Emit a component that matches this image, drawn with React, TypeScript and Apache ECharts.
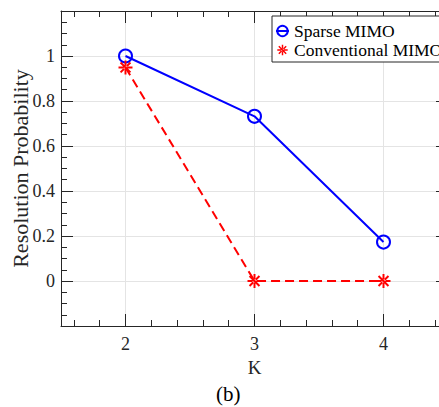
import React, { useEffect, useRef } from "react";
import * as echarts from "echarts";

const K = [2, 3, 4];
const sparseMIMO = [1.0, 0.732, 0.173];
const conventionalMIMO = [0.949, 0, 0];
const xMajorTicks = [2, 3, 4];
const xMinorTicks = [1.6, 1.8, 2.2, 2.4, 2.6, 2.8, 3.2, 3.4, 3.6, 3.8, 4.2, 4.4];
const seriesNames = ["Sparse MIMO", "Conventional MIMO"];

const FONT = "'Liberation Serif', 'Times New Roman', serif";
const AXIS = "#262626";
const GRID = "#e4e4e4";

const STAR =
  "path://M-10,-1.4L10,-1.4L10,1.4L-10,1.4Z M-1.4,-10L1.4,-10L1.4,10L-1.4,10Z " +
  "M-6.08,-8.06L8.06,6.08L6.08,8.06L-8.06,-6.08Z M-6.08,8.06L8.06,-6.08L6.08,-8.06L-8.06,6.08Z";

export default function App() {
  const ref = useRef<HTMLDivElement>(null);
  useEffect(() => {
    if (!ref.current) return;
    const chart = echarts.init(ref.current, null, { renderer: "svg" });
    const xBase = { type: "value" as const, min: 1.5, max: 4.5, gridIndex: 0 };
    const yBase = { type: "value" as const, min: -0.2, max: 1.2, interval: 0.2, gridIndex: 0 };
    const line = { color: AXIS, width: 1 };
    chart.setOption({
      animation: false,
      backgroundColor: "#fff",
      title: {
        text: "(b)",
        left: 216,
        top: 383,
        padding: 0,
        textStyle: { fontFamily: FONT, fontSize: 21, fontWeight: "normal", color: "#000" },
      },
      grid: { left: 61, top: 11, right: 12, bottom: 81, containLabel: false, outerBoundsMode: "none" },
      legend: {
        orient: "vertical",
        left: 272,
        top: 16,
        padding: [6, 8, 3, 3],
        itemGap: 1,
        itemWidth: 13,
        itemHeight: 13,
        backgroundColor: "#fff",
        borderColor: AXIS,
        borderWidth: 1,
        borderRadius: 0,
        textStyle: { fontFamily: FONT, fontSize: 17.5, color: "#000" },
        data: [
          { name: seriesNames[0] },
          { name: seriesNames[1], lineStyle: { opacity: 0 } },
        ],
      },
      xAxis: [
        {
          ...xBase,
          position: "bottom",
          axisLine: { show: true, onZero: false, lineStyle: line },
          axisTick: { show: true, inside: true, length: 12, customValues: xMajorTicks, lineStyle: line },
          axisLabel: {
            show: true,
            customValues: xMajorTicks,
            margin: 9,
            fontFamily: FONT,
            fontSize: 18,
            color: AXIS,
          },
          splitLine: { show: true, lineStyle: { color: GRID, width: 1 } },
          name: "K",
          nameLocation: "middle",
          nameGap: 32,
          nameMoveOverlap: false,
          nameTextStyle: { fontFamily: FONT, fontSize: 19, color: AXIS },
        },
        {
          ...xBase,
          position: "bottom",
          axisLine: { show: false, onZero: false },
          axisTick: { show: true, inside: true, length: 6, customValues: xMinorTicks, lineStyle: line },
          axisLabel: { show: false },
          splitLine: { show: false },
        },
        {
          ...xBase,
          position: "top",
          axisLine: { show: true, onZero: false, lineStyle: line },
          axisTick: { show: true, inside: true, length: 12, customValues: xMajorTicks, lineStyle: line },
          axisLabel: { show: false },
          splitLine: { show: false },
        },
        {
          ...xBase,
          position: "top",
          axisLine: { show: false, onZero: false },
          axisTick: { show: true, inside: true, length: 6, customValues: xMinorTicks, lineStyle: line },
          axisLabel: { show: false },
          splitLine: { show: false },
        },
      ],
      yAxis: [
        {
          ...yBase,
          position: "left",
          axisLine: { show: true, onZero: false, lineStyle: line },
          axisTick: { show: true, inside: true, length: 12, lineStyle: line },
          minorTick: { show: true, splitNumber: 4, length: 6, lineStyle: line },
          axisLabel: {
            show: true,
            margin: 6,
            fontFamily: FONT,
            fontSize: 18,
            color: AXIS,
            formatter: (v: number) => (v < -0.01 || v > 1.01 ? "" : String(+v.toFixed(1))),
          },
          splitLine: { show: true, lineStyle: { color: GRID, width: 1 } },
          name: "Resolution Probability",
          nameLocation: "middle",
          nameGap: 30,
          nameMoveOverlap: false,
          nameTextStyle: { fontFamily: FONT, fontSize: 22, color: AXIS },
        },
        {
          ...yBase,
          position: "right",
          axisLine: { show: true, onZero: false, lineStyle: line },
          axisTick: { show: true, inside: true, length: 12, lineStyle: line },
          minorTick: { show: true, splitNumber: 4, length: 6, lineStyle: line },
          axisLabel: { show: false },
          splitLine: { show: false },
        },
      ],
      series: [
        {
          name: seriesNames[0],
          type: "line",
          xAxisIndex: 0,
          yAxisIndex: 0,
          data: K.map((k, i) => [k, sparseMIMO[i]]),
          symbol: "circle",
          symbolSize: 13,
          lineStyle: { color: "#0000ff", width: 2 },
          itemStyle: { color: "transparent", borderColor: "#0000ff", borderWidth: 2 },
          z: 3,
        },
        {
          name: seriesNames[1],
          type: "line",
          xAxisIndex: 0,
          yAxisIndex: 0,
          data: K.map((k, i) => [k, conventionalMIMO[i]]),
          symbol: STAR,
          symbolSize: 14,
          lineStyle: { color: "#ff0000", width: 2, type: [9, 5] },
          itemStyle: { color: "#ff0000", borderWidth: 0 },
          z: 3,
        },
      ],
    });
    return () => chart.dispose();
  }, []);
  return (
    <div
      style={{
        position: "fixed",
        left: 0,
        top: 0,
        width: 439,
        height: 407,
        overflow: "hidden",
        background: "#fff",
      }}
    >
      <div ref={ref} style={{ width: 460, height: 407 }} />
    </div>
  );
}
